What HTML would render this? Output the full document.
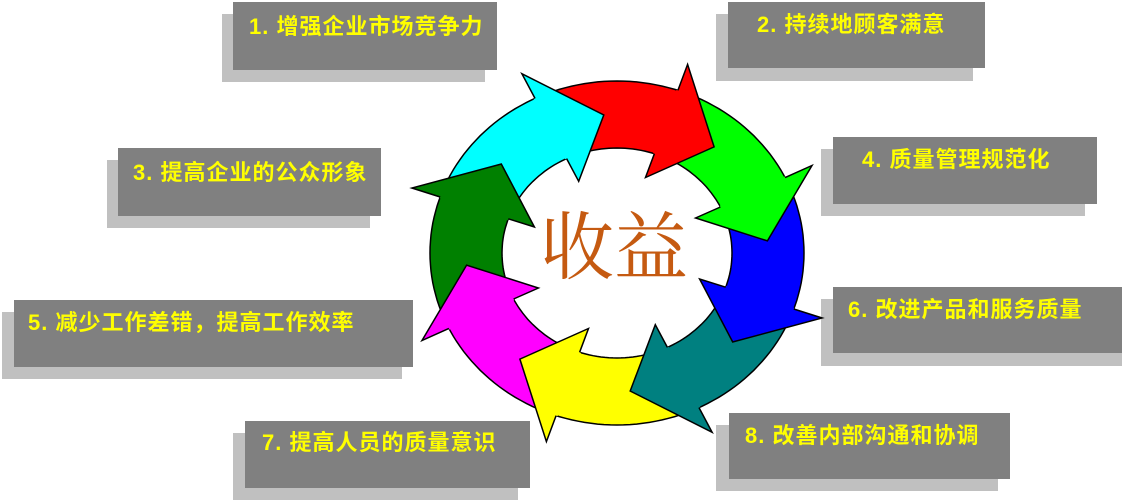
<!DOCTYPE html>
<html><head><meta charset="utf-8"><style>
html,body{margin:0;padding:0;background:#fff;width:1122px;height:501px;overflow:hidden;position:relative}
.sh{position:absolute;background:#c0c0c0}
.bx{position:absolute;background:#808080}
.t{position:absolute;color:#ffff00;font:bold 22px "Liberation Sans","Noto Sans CJK SC",sans-serif;letter-spacing:1px;white-space:nowrap;line-height:26px}
#c{position:absolute;left:0;top:0}
.ctr{position:absolute;left:540px;top:204px;font:74px "Liberation Serif","Noto Serif CJK SC",serif;color:#c55a11;line-height:90px;letter-spacing:0px}
</style></head><body>
<div class="sh" style="left:222px;top:14px;width:263px;height:68px"></div>
<div class="bx" style="left:233px;top:2px;width:264px;height:68px"></div>
<div class="t" style="left:249px;top:14px">1. 增强企业市场竞争力</div>

<div class="sh" style="left:716px;top:14px;width:257px;height:67px"></div>
<div class="bx" style="left:728px;top:2px;width:257px;height:66px"></div>
<div class="t" style="left:757px;top:12px">2. 持续地顾客满意</div>

<div class="sh" style="left:107px;top:160px;width:263px;height:68px"></div>
<div class="bx" style="left:118px;top:148px;width:263px;height:68px"></div>
<div class="t" style="left:133px;top:160px">3. 提高企业的公众形象</div>

<div class="sh" style="left:821px;top:149px;width:264px;height:67px"></div>
<div class="bx" style="left:833px;top:137px;width:264px;height:67px"></div>
<div class="t" style="left:862px;top:147px">4. 质量管理规范化</div>

<div class="sh" style="left:2px;top:312px;width:400px;height:67px"></div>
<div class="bx" style="left:14px;top:300px;width:399px;height:67px"></div>
<div class="t" style="left:28px;top:310px">5. 减少工作差错，提高工作效率</div>

<div class="sh" style="left:821px;top:299px;width:301px;height:67px"></div>
<div class="bx" style="left:833px;top:287px;width:289px;height:66px"></div>
<div class="t" style="left:848px;top:297px">6. 改进产品和服务质量</div>

<div class="sh" style="left:233px;top:433px;width:285px;height:67px"></div>
<div class="bx" style="left:245px;top:421px;width:285px;height:67px"></div>
<div class="t" style="left:262px;top:430px">7. 提高人员的质量意识</div>

<div class="sh" style="left:716px;top:425px;width:282px;height:66px"></div>
<div class="bx" style="left:729px;top:413px;width:281px;height:66px"></div>
<div class="t" style="left:745px;top:423px">8. 改善内部沟通和协调</div>

<svg id="c" width="1122" height="501" xmlns="http://www.w3.org/2000/svg"></svg>
<div class="ctr">收益</div>
<script>
var cx=617,cy=253,ORX=187,ORY=172,IRX=115,IRY=105;
function P(rx,ry,d){var a=d*Math.PI/180;return [(cx+rx*Math.cos(a)).toFixed(1),(cy+ry*Math.sin(a)).toFixed(1)];}
var cols=['#ff0000','#00ff00','#0000ff','#008080','#ffff00','#ff00ff','#008000','#00ffff'];
var base=[-70,-25,20,65,110,155,200,245];
var bands='',heads='';
for(var i=0;i<8;i++){
 var t=base[i],s=t-46;
 var d='M'+P(ORX,ORY,s).join(',');
 for(var a=s;a<=t;a+=2)d+=' L'+P(ORX,ORY,a).join(',');
 d+=' L'+P(ORX,ORY,t).join(',');
 d+=' L'+P(IRX,IRY,t).join(',');
 for(var a=t;a>=s;a-=2)d+=' L'+P(IRX,IRY,a).join(',');
 d+=' Z';
 bands+='<path d="'+d+'" fill="'+cols[i]+'" stroke="#000" stroke-width="1.5"/>';
 var o=P(ORX*1.16,ORY*1.16,t-1),n=P(IRX*0.76,IRY*0.76,t-1),tp=P((ORX+IRX)/2,(ORY+IRY)/2,t+20);
 var o2=P(ORX,ORY,t-1),n2=P(IRX,IRY,t-1);
 heads+='<path d="M'+o2.join(',')+' L'+o.join(',')+' L'+tp.join(',')+' L'+n.join(',')+' L'+n2.join(',')+' Z" fill="'+cols[i]+'" stroke="#000" stroke-width="1.5" stroke-linejoin="miter"/>';
 heads+='<path d="M'+o2.join(',')+' L'+n2.join(',')+'" stroke="'+cols[i]+'" stroke-width="3"/>';
}
document.getElementById('c').innerHTML=bands+heads;
</script>
</body></html>
